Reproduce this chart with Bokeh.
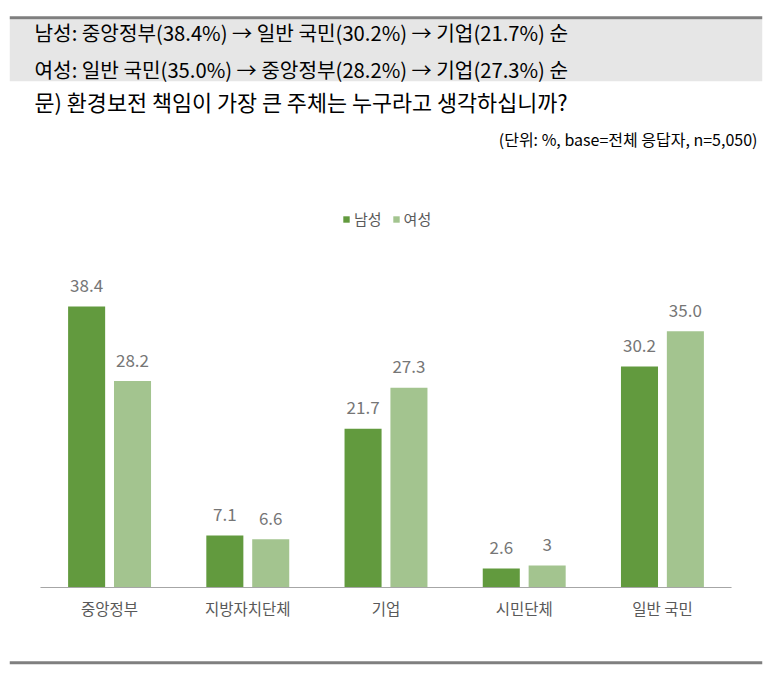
from bokeh.plotting import figure
from bokeh.models import (FactorRange, Range1d, ColumnDataSource, Span, BoxAnnotation,
                          Legend, LegendItem, Label)
from bokeh.transform import dodge
from bokeh.core.properties import value
from bokeh.embed import file_html
from bokeh.resources import INLINE

# ---------------- data ----------------
categories = ["중앙정부", "지방자치단체", "기업", "시민단체", "일반 국민"]
male = [38.4, 7.1, 21.7, 2.6, 30.2]
female = [28.2, 6.6, 27.3, 3.0, 35.0]
male_labels = ["38.4", "7.1", "21.7", "2.6", "30.2"]
female_labels = ["28.2", "6.6", "27.3", "3", "35.0"]
series_names = ["남성", "여성"]
summary_lines = [
    "남성: 중앙정부(38.4%) → 일반 국민(30.2%) → 기업(21.7%) 순",
    "여성: 일반 국민(35.0%) → 중앙정부(28.2%) → 기업(27.3%) 순",
]
question = "문) 환경보전 책임이 가장 큰 주체는 누구라고 생각하십니까?"
unit_note = "(단위: %, base=전체 응답자, n=5,050)"

# ---------------- layout constants ----------------
W, H = 763, 666
PAGE_TOP = 0
BASE_PAGE = 587.0      # y of value 0
PPU = 7.32             # pixels per percent


def y_page(py):
    """data y for a given vertical pixel position"""
    return (BASE_PAGE - py) / PPU


FONT = "Noto Sans CJK KR"
MALE_C = "#629A3E"
FEMALE_C = "#A3C48F"

src = ColumnDataSource(dict(cat=categories, male=male, female=female,
                            male_lab=male_labels, female_lab=female_labels))

p = figure(width=W, height=H, output_backend="svg", toolbar_location=None,
           x_range=FactorRange(factors=categories, range_padding=0.224,
                               range_padding_units="absolute"),
           y_range=Range1d(y_page(PAGE_TOP + H), y_page(PAGE_TOP)))
p.min_border = 0
p.min_border_left = 9
p.min_border_right = 1
p.xaxis.visible = False
p.yaxis.visible = False
p.xgrid.visible = False
p.ygrid.visible = False
p.outline_line_color = None
p.background_fill_color = "white"

# header decoration
p.add_layout(BoxAnnotation(top=y_page(18.7), bottom=y_page(80.7), fill_color="#E6E6E6",
                           fill_alpha=1, line_alpha=0, level="underlay"))
p.add_layout(Span(location=y_page(17.3), dimension="width", line_color="#7F7F7F", line_width=3))
p.add_layout(Span(location=y_page(662.2), dimension="width", line_color="#7F7F7F", line_width=3))

for txt, py in zip(summary_lines, [31.5, 68.5]):
    p.add_layout(Label(x=25, x_units="screen", y=y_page(py), text=txt,
                       text_font=FONT, text_font_size="20.2px", text_color="#000000",
                       text_baseline="middle", text_align="left"))
p.add_layout(Label(x=25, x_units="screen", y=y_page(100.5), text=question,
                   text_font=FONT, text_font_size="21.8px", text_color="#000000",
                   text_baseline="middle", text_align="left"))
p.add_layout(Label(x=748, x_units="screen", y=y_page(138.5), text=unit_note,
                   text_font=FONT, text_font_size="16px", text_color="#000000",
                   text_baseline="middle", text_align="right"))

# bars
BW = 0.268
OFF = 0.166
rm = p.vbar(x=dodge("cat", -OFF, range=p.x_range), top="male", width=BW, bottom=0,
            source=src, fill_color=MALE_C, line_color=None)
rf = p.vbar(x=dodge("cat", OFF, range=p.x_range), top="female", width=BW, bottom=0,
            source=src, fill_color=FEMALE_C, line_color=None)

# baseline
p.segment(x0=dodge("a", -0.5, range=p.x_range), x1=dodge("b", 0.5, range=p.x_range),
          y0=0, y1=0, source=ColumnDataSource(dict(a=[categories[0]], b=[categories[-1]])),
          line_color="#A6A6A6", line_width=1.2)

# value labels
p.text(x=dodge("cat", -OFF, range=p.x_range), y="male", text="male_lab", source=src,
       y_offset=-21, text_align="center", text_baseline="middle",
       text_font=value(FONT), text_font_size="17px", text_color="#767676")
p.text(x=dodge("cat", OFF, range=p.x_range), y="female", text="female_lab", source=src,
       y_offset=-21, text_align="center", text_baseline="middle",
       text_font=value(FONT), text_font_size="17px", text_color="#767676")

# category labels
p.text(x="cat", y=0, text="cat", source=src, y_offset=20,
       text_align="center", text_baseline="middle",
       text_font=value(FONT), text_font_size="15.5px", text_color="#595959")

legend = Legend(items=[LegendItem(label=series_names[0], renderers=[rm]),
                       LegendItem(label=series_names[1], renderers=[rf])],
                orientation="horizontal", location=(333, 437),
                glyph_width=8, glyph_height=8, label_standoff=4, spacing=10,
                padding=0, margin=0, background_fill_alpha=0, border_line_alpha=0,
                label_text_font=FONT, label_text_font_size="15px",
                label_text_color="#595959", label_height=18)
p.add_layout(legend)

open("out.html", "w").write(file_html(p, INLINE))
